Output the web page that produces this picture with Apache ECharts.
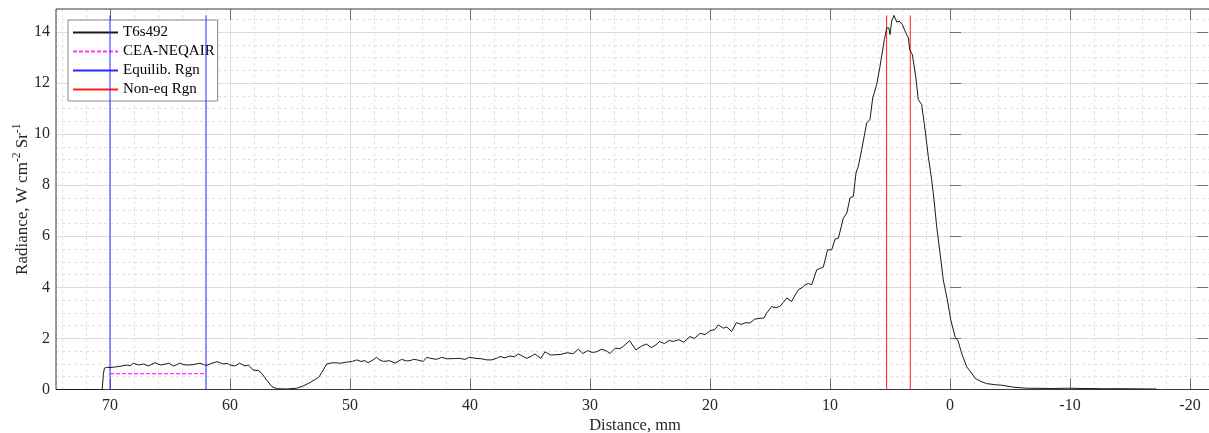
<!DOCTYPE html>
<html>
<head>
<meta charset="utf-8">
<script src="https://cdn.jsdelivr.net/npm/echarts@6/dist/echarts.min.js"></script>
<style>html,body{margin:0;padding:0;background:#fff}#c{width:1209px;height:433px}</style>
</head>
<body>
<div id="c"></div>
<script>
// ---- data ----
const distanceMm = [
  74.5, 70.65, 70.55, 70.47, 70.3, 70.0, 69.86, 69.44, 69.0, 68.6,
  68.3, 68.06, 67.6, 67.2, 66.8, 66.5, 66.25, 65.8, 65.4, 65.1,
  64.7, 64.4, 64.2, 63.9, 63.6, 63.1, 62.8, 62.5, 62.2, 61.97,
  61.5, 61.06, 60.6, 60.2, 60.0, 59.6, 59.2, 58.75, 58.47, 58.06,
  57.6, 57.36, 56.94, 56.5, 56.1, 55.3, 54.44, 53.9, 53.33, 52.6,
  52.36, 51.94, 51.4, 50.8, 50.3, 49.8, 49.44, 49.1, 48.75, 48.5,
  48.1, 47.8, 47.5, 47.2, 46.7, 46.25, 45.7, 45.3, 45.0, 44.7,
  44.4, 43.9, 43.6, 43.4, 42.8, 42.36, 41.9, 41.4, 40.9, 40.4,
  40.06, 39.5, 39.0, 38.6, 38.2, 37.8, 37.5, 37.1, 36.67, 36.3,
  35.97, 35.6, 35.28, 34.9, 34.6, 34.1, 33.75, 33.3, 32.9, 32.5,
  31.9, 31.4, 30.97, 30.6, 30.2, 29.8, 29.44, 29.0, 28.6, 28.33,
  27.9, 27.5, 27.2, 26.7, 26.4, 26.17, 25.7, 25.28, 24.9, 24.5,
  24.2, 23.8, 23.4, 23.06, 22.6, 22.2, 21.67, 21.3, 20.83, 20.4,
  20.0, 19.6, 19.3, 18.9, 18.6, 18.2, 17.8, 17.4, 17.0, 16.67,
  16.3, 15.83, 15.5, 15.28, 14.86, 14.5, 14.2, 13.9, 13.6, 13.2,
  12.9, 12.64, 12.3, 12.08, 11.8, 11.53, 11.1, 10.8, 10.56, 10.2,
  9.86, 9.58, 9.3, 8.89, 8.6, 8.33, 8.06, 7.83, 7.64, 7.36,
  7.22, 6.94, 6.67, 6.44, 6.11, 5.83, 5.69, 5.47, 5.27, 5.1,
  5.0, 4.86, 4.67, 4.44, 4.22, 3.97, 3.69, 3.47, 3.36, 3.14,
  2.86, 2.64, 2.36, 2.08, 1.81, 1.53, 1.33, 1.11, 0.83, 0.56,
  0.22, -0.06, -0.42, -0.69, -0.97, -1.39, -1.8, -2.08, -2.5, -3.06,
  -3.9, -4.3, -5.28, -6.4, -8.6, -9.9, -11, -12.8, -14.5, -16.9,
  -17.2
];
const radiance = [
  0, 0, 0.6, 0.83, 0.87, 0.86, 0.81, 0.89, 0.92, 0.96,
  0.93, 1.03, 0.96, 1.0, 0.92, 0.99, 1.05, 0.96, 0.99, 1.03,
  0.92, 0.98, 1.03, 0.98, 0.96, 0.97, 1.0, 1.03, 0.98, 0.94,
  1.03, 1.09, 1.0, 1.02, 0.96, 0.92, 1.03, 0.92, 0.96, 0.76,
  0.74, 0.63, 0.37, 0.11, 0.03, 0.02, 0.05, 0.14, 0.27, 0.48,
  0.66, 1.0, 1.05, 1.03, 1.07, 1.1, 1.16, 1.1, 1.13, 1.05,
  1.15, 1.26, 1.15, 1.1, 1.13, 1.03, 1.18, 1.12, 1.13, 1.18,
  1.16, 1.1, 1.26, 1.23, 1.18, 1.26, 1.2, 1.21, 1.22, 1.18,
  1.26, 1.22, 1.2, 1.16, 1.16, 1.22, 1.29, 1.24, 1.31, 1.28,
  1.39, 1.3, 1.22, 1.3, 1.39, 1.22, 1.48, 1.35, 1.36, 1.37,
  1.44, 1.4, 1.58, 1.41, 1.52, 1.45, 1.48, 1.58, 1.5, 1.41,
  1.62, 1.6, 1.7, 1.91, 1.7, 1.55, 1.7, 1.78, 1.64, 1.75,
  1.88, 1.8, 1.92, 1.88, 1.95, 1.85, 2.07, 2.0, 2.2, 2.15,
  2.3, 2.35, 2.53, 2.4, 2.45, 2.27, 2.62, 2.55, 2.62, 2.6,
  2.75, 2.79, 2.8, 2.99, 3.25, 3.2, 3.25, 3.4, 3.58, 3.45,
  3.7, 3.9, 4.0, 4.1, 4.15, 4.1, 4.69, 4.75, 4.79, 5.47,
  5.47, 5.89, 5.93, 6.71, 6.91, 7.5, 7.56, 8.48, 8.74, 9.39,
  9.33, 10.44, 10.57, 11.42, 11.94, 12.66, 12.7, 13.7, 14.16, 14.16,
  13.9, 14.42, 14.65, 14.39, 14.42, 14.29, 13.97, 13.77, 13.31, 13.12,
  12.27, 11.35, 11.16, 10.18, 9.13, 8.22, 7.43, 6.38, 5.34, 4.29,
  3.51, 2.73, 2.07, 1.88, 1.42, 0.89, 0.64, 0.44, 0.33, 0.23,
  0.18, 0.17, 0.09, 0.05, 0.04, 0.05, 0.04, 0.03, 0.03, 0.02,
  0.02
];
const equilibX = [70, 62];
const nonEqX = [5.28, 3.31];
const neqairRange = [70, 62];
const neqairValue = 0.62;
const regionTop = 14.65;
const legendNames = ['T6s492', 'CEA-NEQAIR', 'Equilib. Rgn', 'Non-eq Rgn'];

// ---- build chart ----
const FONT = 'Liberation Serif';
const TXT = '#262626';
const trace = distanceMm.map((d, i) => [d, radiance[i]]);
const vline = (x, name, color) => ({
  name, type: 'line', xAxisIndex: 0, yAxisIndex: 0, symbol: 'none',
  lineStyle: { color, width: 1 }, itemStyle: { color }, z: 4,
  data: [[x, 0], [x, regionTop]], animation: false
});

const hidden = { axisLine: { show: false }, axisTick: { show: false }, axisLabel: { show: false }, splitLine: { show: false } };
const noBounds = { outerBoundsMode: 'none', containLabel: false };
const minorLine = { show: true, lineStyle: { color: '#e2e2e2', width: 1, type: [3, 3] } };
const majorLine = { show: true, lineStyle: { color: '#dcdcdc', width: 1 } };
const tickStyle = { show: true, inside: true, length: 11, lineStyle: { color: '#6e6e6e' } };

const option = {
  animation: false,
  backgroundColor: '#fff',
  textStyle: { fontFamily: FONT },
  grid: [
    // data grid (also carries the minor grid lines)
    { left: 56, right: -5, top: 9, bottom: 43.5, ...noBounds, show: true, borderColor: '#3a3a3a', borderWidth: 1, backgroundColor: 'transparent', z: 3 },
    // major x grid / x ticks / x labels
    { left: -10, right: -101, top: 9, bottom: 43.5, ...noBounds },
    // major y grid / y ticks / y labels
    { left: 56, right: 1, top: 9 - 1.1 * 25.53, bottom: 43.5, ...noBounds }
  ],
  xAxis: [
    { gridIndex: 0, type: 'value', min: -22, max: 74.5, interval: 2, inverse: true,
      axisLine: { show: false }, axisTick: { show: false }, axisLabel: { show: false },
      splitLine: minorLine,
      name: 'Distance, mm', nameLocation: 'middle', nameGap: 28,
      nameTextStyle: { fontFamily: FONT, fontSize: 16.5, color: TXT } },
    { gridIndex: 1, type: 'value', min: -30, max: 80, interval: 10, inverse: true, position: 'bottom',
      axisLine: { show: false }, axisTick: tickStyle,
      axisLabel: { show: true, margin: 8, fontFamily: FONT, fontSize: 16, color: TXT },
      splitLine: majorLine },
    { gridIndex: 1, type: 'value', min: -30, max: 80, interval: 10, inverse: true, position: 'top',
      axisLine: { show: false }, axisTick: tickStyle,
      axisLabel: { show: false }, splitLine: { show: false } },
    { gridIndex: 2, type: 'value', min: -21.5, max: 74.5, inverse: true, ...hidden }
  ],
  yAxis: [
    { gridIndex: 0, type: 'value', min: 0, max: 14.9, interval: 0.5,
      axisLine: { show: false }, axisTick: { show: false }, axisLabel: { show: false },
      splitLine: minorLine,
      name: '{n|Radiance, W cm}{s|-2}{n| Sr}{s|-1}', nameLocation: 'middle', nameGap: 25,
      nameTextStyle: { fontFamily: FONT, fontSize: 17, color: TXT,
        rich: { n: { fontFamily: FONT, fontSize: 17, color: TXT, lineHeight: 20, verticalAlign: 'bottom' },
                s: { fontFamily: FONT, fontSize: 11.5, color: TXT, lineHeight: 20, verticalAlign: 'top' } } } },
    { gridIndex: 1, type: 'value', min: 0, max: 14.9, ...hidden },
    { gridIndex: 2, type: 'value', min: 0, max: 16, interval: 2, position: 'left',
      axisLine: { show: false }, axisTick: tickStyle,
      axisLabel: { show: true, margin: 6, fontFamily: FONT, fontSize: 16, color: TXT },
      splitLine: majorLine },
    { gridIndex: 2, type: 'value', min: 0, max: 16, interval: 2, position: 'right',
      axisLine: { show: false }, axisTick: tickStyle,
      axisLabel: { show: false }, splitLine: { show: false } }
  ],
  legend: {
    data: legendNames, orient: 'vertical', left: 68, top: 20,
    padding: [5, 3, 4, 4], itemGap: 4, itemWidth: 45, itemHeight: 14,
    backgroundColor: '#fff', borderColor: '#888', borderWidth: 1,
    itemStyle: { opacity: 0 },
    textStyle: { fontFamily: FONT, fontSize: 15, color: '#000' },
    selectedMode: false
  },
  series: [
    { name: 'T6s492', type: 'line', xAxisIndex: 0, yAxisIndex: 0, symbol: 'none',
      lineStyle: { color: '#1a1a1a', width: 1 }, itemStyle: { color: '#1a1a1a' }, z: 5,
      data: trace },
    { name: 'CEA-NEQAIR', type: 'line', xAxisIndex: 0, yAxisIndex: 0, symbol: 'none',
      lineStyle: { color: '#ff33ff', width: 1.3, type: [4, 2] }, itemStyle: { color: '#ff33ff' }, z: 4,
      data: neqairRange.map(x => [x, neqairValue]) },
    vline(equilibX[0], 'Equilib. Rgn', '#2a2aff'),
    vline(equilibX[1], 'Equilib. Rgn', '#2a2aff'),
    vline(nonEqX[0], 'Non-eq Rgn', '#ff1a1a'),
    vline(nonEqX[1], 'Non-eq Rgn', '#ff1a1a')
  ]
};
const chart = echarts.init(document.getElementById('c'), null, { renderer: 'canvas' });
chart.setOption(option);
</script>
</body>
</html>
